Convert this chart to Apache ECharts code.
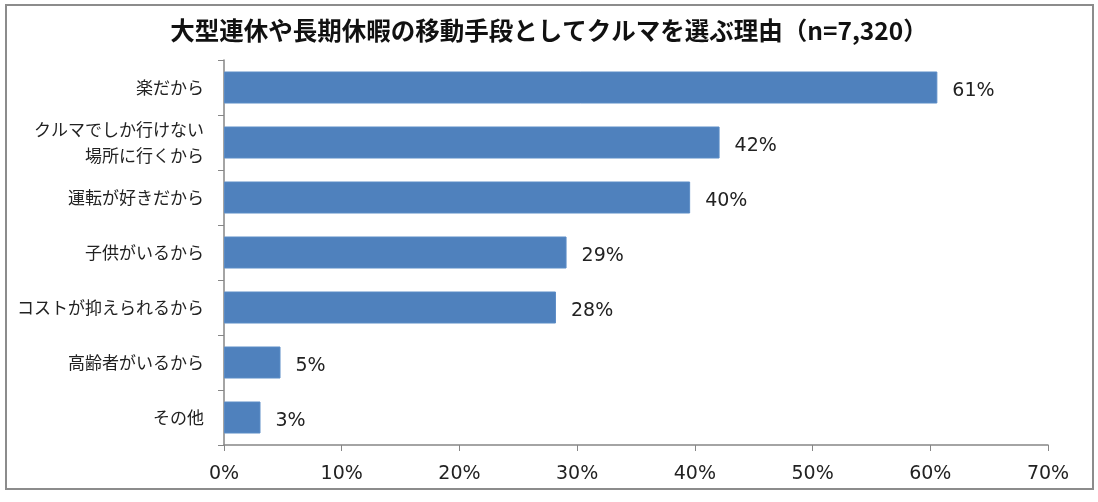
<!DOCTYPE html>
<html><head><meta charset="utf-8">
<script src="https://cdn.jsdelivr.net/npm/echarts@6/dist/echarts.min.js"></script>
<style>html,body{margin:0;padding:0;background:#fff}#c{width:1098px;height:502px}</style>
</head><body><div id="c"></div>
<script>
const titleText = '大型連休や長期休暇の移動手段としてクルマを選ぶ理由（n=7,320）';
const categories = ['楽だから','クルマでしか行けない\n場所に行くから','運転が好きだから','子供がいるから','コストが抑えられるから','高齢者がいるから','その他'];
const values = [60.6, 42.1, 39.6, 29.1, 28.2, 4.8, 3.1];
const labels = ['61%','42%','40%','29%','28%','5%','3%'];
const xTicks = [0,10,20,30,40,50,60,70];

const font = '"Noto Sans CJK JP", "Noto Sans", sans-serif';
const numFont = '"DejaVu Sans", "Noto Sans CJK JP", sans-serif';
const chart = echarts.init(document.getElementById('c'), null, {renderer:'canvas'});
chart.setOption({
  backgroundColor:'#fff',
  animation:false,
  graphic:[{type:'rect',shape:{x:6,y:5,width:1087,height:484},style:{fill:'none',stroke:'#8c8c8c',lineWidth:2}}],
  title:{text:titleText,left:'center',top:13,textStyle:{fontFamily:font,fontSize:24.5,fontWeight:'bold',color:'#111'}},
  grid:{left:224,right:50,top:60,bottom:57,containLabel:false},
  xAxis:{type:'value',min:0,max:70,interval:10,
    axisLine:{show:true,lineStyle:{color:'#868686',width:1.5}},
    axisTick:{show:true,length:6,lineStyle:{color:'#868686'}},
    splitLine:{show:false},
    axisLabel:{formatter:v=>xTicks.includes(v)?v+'%':'',fontFamily:numFont,fontSize:19,color:'#222',margin:20}},
  yAxis:{type:'category',data:categories,inverse:true,
    axisLine:{show:true,lineStyle:{color:'#868686',width:1.5}},
    axisTick:{show:true,length:6,alignWithLabel:false,lineStyle:{color:'#868686'}},
    axisLabel:{fontFamily:font,fontSize:17,color:'#222',margin:20,lineHeight:26}},
  series:[{type:'bar',data:values,barWidth:32,
    itemStyle:{color:'#4F81BD',borderColor:'#5b8cc6',borderWidth:1},
    label:{show:true,position:'right',distance:15,offset:[0,4],formatter:p=>labels[p.dataIndex],fontFamily:numFont,fontSize:19,color:'#222'}}]
});
</script></body></html>
